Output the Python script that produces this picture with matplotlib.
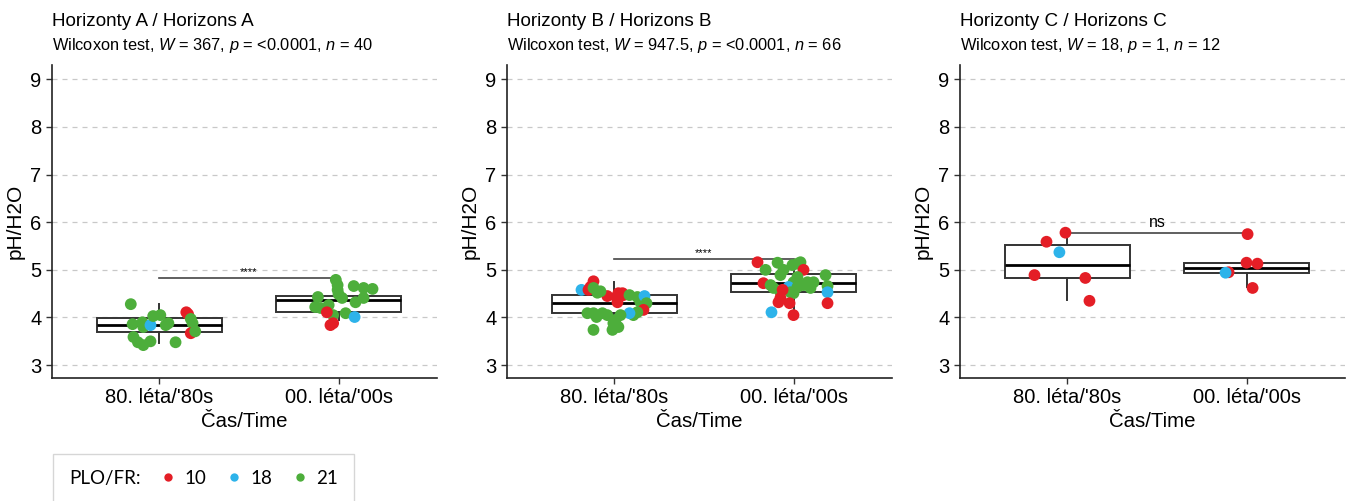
import numpy as np
import matplotlib
matplotlib.use("Agg")
import matplotlib.pyplot as plt
from matplotlib.lines import Line2D

plt.rcParams['font.family'] = ['Liberation Sans', 'DejaVu Sans']
plt.rcParams['mathtext.fontset'] = 'custom'
plt.rcParams['mathtext.rm'] = 'Liberation Sans'
plt.rcParams['mathtext.it'] = 'Liberation Sans:italic'

# ---- data ----
categories = ["80. léta/'80s", "00. léta/'00s"]
titles = ["Horizonty A / Horizons A", "Horizonty B / Horizons B", "Horizonty C / Horizons C"]
subtitles = [r"Wilcoxon test, $\it{W}$ = 367, $\it{p}$ = <0.0001, $\it{n}$ = 40",
             r"Wilcoxon test, $\it{W}$ = 947.5, $\it{p}$ = <0.0001, $\it{n}$ = 66",
             r"Wilcoxon test, $\it{W}$ = 18, $\it{p}$ = 1, $\it{n}$ = 12"]
sig_labels = ["****", "****", "ns"]
sig_y = [4.82, 5.22, 5.78]

# box statistics per panel: [80s, 00s]
box_q1 = [[3.69, 4.11], [4.09, 4.53], [4.83, 4.93]]
box_med = [[3.85, 4.36], [4.30, 4.72], [5.10, 5.03]]
box_q3 = [[3.99, 4.46], [4.48, 4.91], [5.52, 5.15]]
box_lo = [[3.47, 3.95], [3.74, 4.05], [4.36, 4.63]]
box_hi = [[4.28, 4.79], [4.75, 5.20], [5.78, 5.15]]

# points: value, jitter offset, PLO code
a80_val = [4.28, 3.86, 3.90, 3.80, 3.84, 4.03, 4.05, 3.59, 3.48, 3.42,
           3.50, 3.84, 3.88, 3.48, 4.11, 4.07, 3.97, 3.88, 3.67, 3.71]
a80_jit = [-0.16, -0.15, -0.095, -0.09, -0.05, -0.035, 0.005, -0.145, -0.12, -0.09,
           -0.05, 0.035, 0.05, 0.09, 0.15, 0.16, 0.175, 0.185, 0.175, 0.2]
a80_plo = [21, 21, 21, 21, 18, 21, 21, 21, 21, 21,
           21, 21, 21, 21, 10, 10, 21, 21, 10, 21]

a00_val = [4.79, 4.68, 4.58, 4.49, 4.66, 4.62, 4.43, 4.41, 4.41, 4.32,
           4.22, 4.20, 4.26, 4.05, 4.09, 4.11, 4.01, 3.84, 3.88, 4.60]
a00_jit = [-0.015, -0.005, -0.005, 0.0, 0.085, 0.14, -0.115, 0.02, 0.14, 0.095,
           -0.13, -0.10, -0.055, -0.03, 0.04, -0.065, 0.09, -0.045, -0.03, 0.19]
a00_plo = [21, 21, 21, 21, 21, 21, 21, 21, 21, 21,
           21, 21, 21, 21, 21, 10, 18, 10, 10, 21]

b80_val = [4.76, 4.58, 4.58, 4.64, 4.62, 4.52, 4.45, 4.43, 4.51, 4.51,
           4.47, 4.32, 4.47, 4.43, 4.32, 4.45, 4.30, 4.16, 4.11, 4.05,
           4.09, 4.09, 4.09, 4.09, 4.05, 3.95, 3.88, 3.80, 3.74, 3.74,
           4.01, 4.05, 4.55]
b80_jit = [-0.117, -0.184, -0.145, -0.134, -0.117, -0.095, -0.04, 0.011, 0.022, 0.045,
           0.05, 0.017, 0.084, 0.128, 0.145, 0.168, 0.179, 0.162, 0.128, 0.106,
           0.084, -0.151, -0.117, -0.067, -0.04, 0.006, -0.006, 0.022, -0.011, -0.117,
           -0.1, 0.034, -0.078]
b80_plo = [10, 18, 10, 10, 21, 21, 10, 10, 10, 10,
           10, 10, 21, 21, 21, 18, 21, 10, 21, 21,
           18, 21, 21, 21, 21, 21, 21, 21, 21, 21,
           21, 21, 21]

b00_val = [5.16, 5.15, 5.10, 5.13, 5.16, 5.00, 5.00, 5.00, 4.89, 4.89,
           4.85, 4.74, 4.74, 4.74, 4.72, 4.68, 4.62, 4.64, 4.64, 4.68,
           4.62, 4.66, 4.53, 4.53, 4.53, 4.51, 4.58, 4.41, 4.32, 4.30,
           4.30, 4.11, 4.05]
b00_jit = [-0.201, -0.089, -0.006, 0.022, 0.039, 0.056, -0.156, -0.056, -0.073, 0.179,
           0.022, 0.0, 0.078, 0.112, -0.168, -0.128, -0.112, -0.028, 0.022, 0.056,
           0.095, 0.19, 0.19, -0.073, -0.017, 0.0, -0.061, -0.073, -0.084, -0.022,
           0.19, -0.123, 0.0]
b00_plo = [10, 21, 21, 21, 21, 10, 21, 21, 21, 21,
           21, 21, 21, 21, 10, 21, 21, 18, 21, 21,
           21, 21, 18, 21, 21, 21, 10, 10, 10, 10,
           10, 18, 10]

c80_val = [5.78, 5.59, 5.37, 4.89, 4.83, 4.35]
c80_jit = [-0.011, -0.117, -0.045, -0.184, 0.10, 0.123]
c80_plo = [10, 10, 18, 10, 10, 10]

c00_val = [5.75, 5.15, 5.13, 4.95, 4.94, 4.62]
c00_jit = [0.006, 0.0, 0.061, -0.10, -0.117, 0.034]
c00_plo = [10, 10, 10, 10, 18, 10]

plo_codes = [10, 18, 21]
plo_colors = {10: "#E41E26", 18: "#2DB3EA", 21: "#4DAE3B"}

points = [[(a80_val, a80_jit, a80_plo), (a00_val, a00_jit, a00_plo)],
          [(b80_val, b80_jit, b80_plo), (b00_val, b00_jit, b00_plo)],
          [(c80_val, c80_jit, c80_plo), (c00_val, c00_jit, c00_plo)]]

# ---- figure ----
W, H = 1362, 501
fig = plt.figure(figsize=(W / 100, H / 100), dpi=100)
ax_left_px = [52, 507, 960]
ax_w_px = 385
ax_top_px, ax_bot_px = 65, 378

for i in range(3):
    ax = fig.add_axes([ax_left_px[i] / W, 1 - ax_bot_px / H,
                       ax_w_px / W, (ax_bot_px - ax_top_px) / H])
    pos = np.array([1, 2])
    stats = [dict(med=box_med[i][g], q1=box_q1[i][g], q3=box_q3[i][g],
                  whislo=box_lo[i][g], whishi=box_hi[i][g], fliers=[])
             for g in range(2)]
    ax.bxp(stats, positions=pos, widths=0.7, showcaps=False, showfliers=False,
           patch_artist=True,
           boxprops=dict(facecolor="white", edgecolor="#333333", linewidth=1.4),
           medianprops=dict(color="black", linewidth=2.0),
           whiskerprops=dict(color="#333333", linewidth=1.4))
    for g in range(2):
        val, jit, plo = points[i][g]
        ax.scatter(pos[g] + np.array(jit), val,
                   c=[plo_colors[p] for p in plo], s=72, edgecolors="none", zorder=3)

    # significance bar
    ax.plot([1, 2], [sig_y[i], sig_y[i]], color="#444444", lw=1.2, zorder=2)
    if sig_labels[i] == "ns":
        ax.text(1.5, sig_y[i] + 0.05, "ns", ha="center", va="bottom", fontsize=11.5)
    else:
        ax.text(1.5, sig_y[i] + 0.03, sig_labels[i], ha="center", va="bottom", fontsize=8)

    ax.set_xlim(0.4, 2.55)
    ax.set_ylim(2.73, 9.3)
    ax.set_yticks(range(3, 10))
    ax.set_xticks(pos)
    ax.set_xticklabels(categories)
    ax.tick_params(axis="both", labelsize=14.5, length=4, width=1, color="#333333")
    ax.yaxis.grid(True, linestyle=(0, (4, 4)), color="#c8c8c8", linewidth=0.9)
    ax.set_axisbelow(True)
    for s in ["top", "right"]:
        ax.spines[s].set_visible(False)
    for s in ["left", "bottom"]:
        ax.spines[s].set_linewidth(1.2)
        ax.spines[s].set_color("#222222")
    ax.set_ylabel("pH/H2O", fontsize=15, labelpad=4)
    ax.set_xlabel("Čas/Time", fontsize=14.7, labelpad=3)

    fig.text(ax_left_px[i] / W, 1 - 26 / H, titles[i], fontsize=13.6, va="baseline")
    fig.text(ax_left_px[i] / W, 1 - 50 / H, subtitles[i], fontsize=11.8, va="baseline")

# legend (frame runs off the bottom edge like the original)
handles = [Line2D([], [], marker="o", linestyle="none", markersize=6,
                  markerfacecolor=plo_colors[c], markeredgecolor="none") for c in plo_codes]
leg = fig.legend(handles, [str(c) for c in plo_codes], title="PLO/FR:", ncol=3,
                 loc="upper left", bbox_to_anchor=(53 / W, 1 - 454 / H),
                 borderaxespad=0,
                 prop={"family": "Lato", "size": 13.5},
                 title_fontproperties={"family": "Lato", "size": 13.5},
                 frameon=True, fancybox=False, edgecolor="#cccccc",
                 handlelength=0.8, handletextpad=0.5, columnspacing=1.05, borderpad=0.85)
leg.get_frame().set_linewidth(1.0)
box = leg.get_children()[0]
title_box = box.get_children()[0]
hpack = box.get_children()[1]
box._children = [hpack]
hpack._children = [title_box] + hpack.get_children()

fig.savefig("out.png", dpi=100)
